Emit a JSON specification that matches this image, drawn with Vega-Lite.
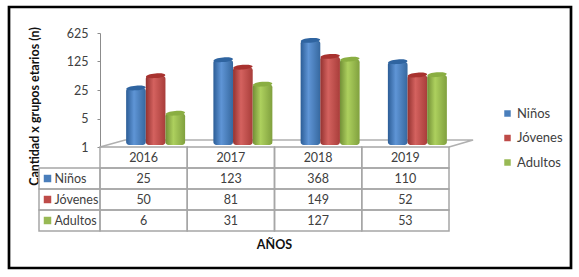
{
"$schema":"https://vega.github.io/schema/vega-lite/v6.json",
"autosize":{"type":"none"},
"padding":{"left":9,"top":7,"right":8,"bottom":9},
"width":562,"height":261,
"background":"white",
"view":{"stroke":"black","strokeWidth":2.7,"fill":"white"},
"config":{"font":"Lato","text":{"font":"Lato"}},
"datasets":{
"valores":[
{"anio":"2016","serie":"Niños","n":25},{"anio":"2017","serie":"Niños","n":123},{"anio":"2018","serie":"Niños","n":368},{"anio":"2019","serie":"Niños","n":110},
{"anio":"2016","serie":"Jóvenes","n":50},{"anio":"2017","serie":"Jóvenes","n":81},{"anio":"2018","serie":"Jóvenes","n":149},{"anio":"2019","serie":"Jóvenes","n":52},
{"anio":"2016","serie":"Adultos","n":6},{"anio":"2017","serie":"Adultos","n":31},{"anio":"2018","serie":"Adultos","n":127},{"anio":"2019","serie":"Adultos","n":53}],
"anios":[{"anio":"2016"},{"anio":"2017"},{"anio":"2018"},{"anio":"2019"}],
"series":[{"serie":"Niños"},{"serie":"Jóvenes"},{"serie":"Adultos"}],
"piso":[{"prof":0,"nivel":1,"orden":1},{"prof":0.072,"nivel":1.485,"orden":2},{"prof":1.069,"nivel":1.485,"orden":3},{"prof":1,"nivel":1,"orden":4}]
},
"resolve":{"scale":{"x":"independent","y":"independent"}},
"layer":[
{"data":{"name":"piso"},"mark":{"type":"line","color":"#b0b0b0","strokeWidth":1.6},
 "encoding":{
  "x":{"field":"prof","type":"quantitative","axis":null,"scale":{"domain":[0,1],"range":[91,440],"nice":false,"zero":false}},
  "y":{"field":"nivel","type":"quantitative","scale":{"type":"log","base":5,"domain":[1,625],"range":[140,26],"nice":false},
   "axis":{"values":[1,5,25,125,625],"format":"d","offset":-91,"grid":false,"domainColor":"#8c8c8c","tickColor":"#8c8c8c","tickSize":3,"labelFont":"Lato","labelFontSize":12.5,"labelColor":"#404040","labelPadding":9,
   "title":"Cantidad x grupos etarios (n)","titleFont":"Lato","titleFontSize":12.5,"titleFontWeight":"bold","titleColor":"#111111","titleX":-59,"titleY":99}},
  "order":{"field":"orden","type":"quantitative"}}},
{"data":{"name":"valores"},"transform":[{"filter":"datum.serie==='Niños'"}],
 "encoding":{
  "x":{"field":"anio","type":"nominal","axis":null,"scale":{"domain":["2016","2017","2018","2019"],"range":[103,452],"paddingInner":0.324,"paddingOuter":0.162}},
  "xOffset":{"field":"serie","type":"nominal","scale":{"domain":["Niños","Jóvenes","Adultos"],"paddingInner":0,"paddingOuter":0}},
  "y":{"field":"n","type":"quantitative","axis":null,"stack":null,"scale":{"type":"log","base":5,"domain":[1,625],"range":[138,24],"nice":false}}},
 "layer":[
  {"mark":{"type":"bar","cornerRadius":3,"fill":{"gradient":"linear","x1":0,"x2":1,"y1":0,"y2":0,"stops":[{"offset":0,"color":"#2c5d96"},{"offset":0.4,"color":"#5f95d6"},{"offset":1,"color":"#36689f"}]}}},
  {"mark":{"type":"point","filled":true,"fill":"#2f64a0","opacity":1,"shape":"M-1,0A1,0.24,0,1,1,1,0A1,0.24,0,1,1,-1,0Z","size":380,"angle":-5}}]},
{"data":{"name":"valores"},"transform":[{"filter":"datum.serie==='Jóvenes'"}],
 "encoding":{
  "x":{"field":"anio","type":"nominal","axis":null,"scale":{"domain":["2016","2017","2018","2019"],"range":[103,452],"paddingInner":0.324,"paddingOuter":0.162}},
  "xOffset":{"field":"serie","type":"nominal","scale":{"domain":["Niños","Jóvenes","Adultos"],"paddingInner":0,"paddingOuter":0}},
  "y":{"field":"n","type":"quantitative","axis":null,"stack":null,"scale":{"type":"log","base":5,"domain":[1,625],"range":[138,24],"nice":false}}},
 "layer":[
  {"mark":{"type":"bar","cornerRadius":3,"fill":{"gradient":"linear","x1":0,"x2":1,"y1":0,"y2":0,"stops":[{"offset":0,"color":"#933230"},{"offset":0.4,"color":"#d4625f"},{"offset":1,"color":"#a83d3a"}]}}},
  {"mark":{"type":"point","filled":true,"fill":"#a8322f","opacity":1,"shape":"M-1,0A1,0.24,0,1,1,1,0A1,0.24,0,1,1,-1,0Z","size":380,"angle":-5}}]},
{"data":{"name":"valores"},"transform":[{"filter":"datum.serie==='Adultos'"}],
 "encoding":{
  "x":{"field":"anio","type":"nominal","axis":null,"scale":{"domain":["2016","2017","2018","2019"],"range":[103,452],"paddingInner":0.324,"paddingOuter":0.162}},
  "xOffset":{"field":"serie","type":"nominal","scale":{"domain":["Niños","Jóvenes","Adultos"],"paddingInner":0,"paddingOuter":0}},
  "y":{"field":"n","type":"quantitative","axis":null,"stack":null,"scale":{"type":"log","base":5,"domain":[1,625],"range":[138,24],"nice":false}}},
 "layer":[
  {"mark":{"type":"bar","cornerRadius":3,"fill":{"gradient":"linear","x1":0,"x2":1,"y1":0,"y2":0,"stops":[{"offset":0,"color":"#728f36"},{"offset":0.4,"color":"#add05e"},{"offset":1,"color":"#80a03e"}]}}},
  {"mark":{"type":"point","filled":true,"fill":"#8aae42","opacity":1,"shape":"M-1,0A1,0.24,0,1,1,1,0A1,0.24,0,1,1,-1,0Z","size":380,"angle":-5}}]},
{"data":{"name":"anios"},"mark":{"type":"rect","fillOpacity":0,"stroke":"#a6a6a6","strokeWidth":1.5},
 "encoding":{
  "x":{"field":"anio","type":"nominal","axis":{"labels":false,"ticks":false,"domain":false,"grid":false,"offset":-37,"title":"AÑOS","titleFont":"Lato","titleFontSize":12.5,"titleFontWeight":"bold","titleColor":"#111111","titleX":265,"titleY":7},"scale":{"domain":["2016","2017","2018","2019"],"range":[91,440],"paddingInner":0,"paddingOuter":0}},
  "y":{"datum":"Año","type":"nominal","axis":null,"scale":{"domain":["Año"],"range":[140,161],"paddingInner":0,"paddingOuter":0}}}},
{"data":{"name":"anios"},"mark":{"type":"text","font":"Lato","fontSize":12.5,"color":"#404040"},
 "encoding":{
  "x":{"field":"anio","type":"nominal","axis":null,"scale":{"domain":["2016","2017","2018","2019"],"range":[91,440],"paddingInner":0,"paddingOuter":0}},
  "y":{"datum":"Año","type":"nominal","axis":null,"scale":{"domain":["Año"],"range":[140,161],"paddingInner":0,"paddingOuter":0}},
  "text":{"field":"anio","type":"nominal"}}},
{"data":{"name":"valores"},"mark":{"type":"rect","fillOpacity":0,"stroke":"#a6a6a6","strokeWidth":1.5},
 "encoding":{
  "x":{"field":"anio","type":"nominal","axis":null,"scale":{"domain":["2016","2017","2018","2019"],"range":[91,440],"paddingInner":0,"paddingOuter":0}},
  "y":{"field":"serie","type":"nominal","axis":null,"scale":{"domain":["Niños","Jóvenes","Adultos"],"range":[161,224],"paddingInner":0,"paddingOuter":0}}}},
{"data":{"name":"valores"},"mark":{"type":"text","font":"Lato","fontSize":12.5,"color":"#404040"},
 "encoding":{
  "x":{"field":"anio","type":"nominal","axis":null,"scale":{"domain":["2016","2017","2018","2019"],"range":[91,440],"paddingInner":0,"paddingOuter":0}},
  "y":{"field":"serie","type":"nominal","axis":null,"scale":{"domain":["Niños","Jóvenes","Adultos"],"range":[161,224],"paddingInner":0,"paddingOuter":0}},
  "text":{"field":"n","type":"quantitative"}}},
{"data":{"name":"series"},"mark":{"type":"rect","fillOpacity":0,"stroke":"#a6a6a6","strokeWidth":1.5},
 "encoding":{
  "x":{"datum":"cabecera","type":"nominal","axis":null,"scale":{"domain":["cabecera"],"range":[30,91],"paddingInner":0,"paddingOuter":0}},
  "y":{"field":"serie","type":"nominal","axis":null,"scale":{"domain":["Niños","Jóvenes","Adultos"],"range":[161,224],"paddingInner":0,"paddingOuter":0}}}},
{"data":{"name":"series"},"mark":{"type":"text","font":"Lato","fontSize":12.5,"color":"#404040","align":"left","dx":-15},
 "encoding":{
  "x":{"datum":"cabecera","type":"nominal","axis":null,"scale":{"domain":["cabecera"],"range":[30,91],"paddingInner":0,"paddingOuter":0}},
  "y":{"field":"serie","type":"nominal","axis":null,"scale":{"domain":["Niños","Jóvenes","Adultos"],"range":[161,224],"paddingInner":0,"paddingOuter":0}},
  "text":{"field":"serie","type":"nominal"}}},
{"data":{"name":"series"},"mark":{"type":"square","size":56,"opacity":1,"xOffset":-22},
 "encoding":{
  "x":{"datum":"cabecera","type":"nominal","axis":null,"scale":{"domain":["cabecera"],"range":[30,91],"paddingInner":0,"paddingOuter":0}},
  "y":{"field":"serie","type":"nominal","axis":null,"scale":{"domain":["Niños","Jóvenes","Adultos"],"range":[161,224],"paddingInner":0,"paddingOuter":0}},
  "color":{"field":"serie","type":"nominal","scale":{"domain":["Niños","Jóvenes","Adultos"],"range":["#4a7ebb","#be4b48","#98b954"]},
   "legend":{"title":null,"orient":"none","legendX":492,"legendY":100,"symbolType":"square","symbolSize":42,"symbolOpacity":1,"labelFont":"Lato","labelFontSize":13,"labelColor":"#404040","rowPadding":10.5,"labelOffset":3}}}}
]
}
